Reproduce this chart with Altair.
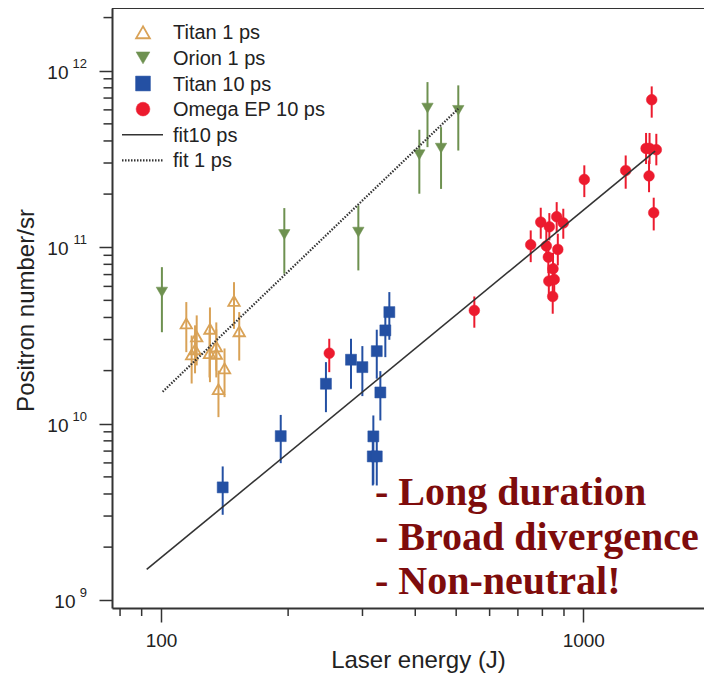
import altair as alt
import pandas as pd

# ---------------- data ----------------
titan1_E = [114.8, 121.5, 118.2, 120.4, 130.6, 130.3, 135.2, 135.2, 148.9, 153.2, 141.4, 136.8]
titan1_N = [3.70e10, 3.12e10, 2.47e10, 2.64e10, 3.45e10, 2.51e10, 2.74e10, 2.49e10, 4.96e10, 3.34e10, 2.06e10, 1.57e10]
titan1_hi = [4.89e10, 4.11e10, 3.16e10, 3.61e10, 4.56e10, 3.42e10, 3.75e10, 3.42e10, 6.34e10, 4.29e10, 2.67e10, 2.00e10]
titan1_lo = [2.545e10, 2.14e10, 1.69e10, 1.93e10, 1.72e10, 1.83e10, 2.00e10, 1.83e10, 3.45e10, 2.28e10, 1.415e10, 1.09e10]

orion_E = [100.5, 195.9, 293.3, 409.0, 427.6, 460.4, 505.8]
orion_N = [5.57e10, 1.18e11, 1.218e11, 3.34e11, 6.14e11, 3.64e11, 5.96e11]
orion_hi = [7.71e10, 1.666e11, 1.725e11, 4.63e11, 8.62e11, 4.79e11, 8.26e11]
orion_lo = [3.30e10, 7.08e10, 7.39e10, 2.01e11, 3.69e11, 2.14e11, 3.53e11]

titan10_E = [140.0, 192.1, 245.8, 281.8, 299.8, 324.3, 330.7, 318.3, 317.3, 324.3, 339.8, 347.3]
titan10_N = [4.36e9, 8.51e9, 1.685e10, 2.305e10, 2.093e10, 2.578e10, 1.504e10, 8.48e9, 6.53e9, 6.53e9, 3.38e10, 4.29e10]
titan10_hi = [5.73e9, 1.122e10, 2.234e10, 3.03e10, 2.753e10, 3.41e10, 1.986e10, 1.114e10, 8.39e9, 8.39e9, 4.385e10, 5.57e10]
titan10_lo = [3.05e9, 5.98e9, 1.163e10, 1.578e10, 1.434e10, 1.80e10, 1.044e10, 4.53e9, 4.47e9, 4.47e9, 2.384e10, 2.99e10]

omega_E = [250.3, 552, 750.7, 792.9, 830.9, 864.9, 896.6, 817.4, 870.2, 826.4, 847.8, 828.6, 853.4, 846.4,
           1005.5, 1260, 1408, 1435, 1489, 1452, 1431, 1468]
omega_N = [2.51e10, 4.385e10, 1.033e11, 1.388e11, 1.306e11, 1.489e11, 1.373e11, 1.017e11, 9.72e10, 8.79e10,
           7.55e10, 6.43e10, 6.57e10, 5.26e10, 2.42e11, 2.72e11, 3.63e11, 3.63e11, 3.57e11, 6.85e11, 2.535e11, 1.569e11]
omega_hi = [3.03e10, 5.26e10, 1.245e11, 1.674e11, 1.561e11, 1.801e11, 1.652e11, 1.245e11, 1.193e11, 1.083e11,
            9.31e10, 7.92e10, 8.09e10, 6.49e10, 2.91e11, 3.31e11, 4.44e11, 4.44e11, 4.39e11, 8.15e11, 3.10e11, 1.908e11]
omega_lo = [1.96e10, 3.50e10, 8.23e10, 1.117e11, 1.093e11, 1.218e11, 1.117e11, 8.41e10, 7.89e10, 7.13e10,
            6.13e10, 5.22e10, 5.33e10, 4.20e10, 1.923e11, 2.145e11, 2.96e11, 2.96e11, 2.91e11, 5.42e11, 2.05e11, 1.245e11]

fit10_E = [92.5, 1479]
fit10_N = [1.494e9, 3.50e11]
fit1_E = [100.9, 505.8]
fit1_N = [1.518e10, 6.09e11]

legend_labels = ["Titan 1 ps", "Orion 1 ps", "Titan 10 ps", "Omega EP 10 ps", "fit10 ps", "fit 1 ps"]
notes = ["- Long duration", "- Broad divergence", "- Non-neutral!"]

x_major = [100, 1000]
x_minor = [80, 90, 200, 300, 400, 500, 600, 700, 800, 900]
y_major = [1e9, 1e10, 1e11, 1e12]
y_exp = ["9", "10", "11", "12"]
y_minor = [2e9, 3e9, 4e9, 5e9, 6e9, 7e9, 8e9, 9e9,
           2e10, 3e10, 4e10, 5e10, 6e10, 7e10, 8e10, 9e10,
           2e11, 3e11, 4e11, 5e11, 6e11, 7e11, 8e11, 9e11, 2e12]

# ---------------- styling ----------------
W, H = 592, 600
AX = "#333333"
TXT = "#222222"
FONT = "Liberation Sans"
C_T1 = "#D9A257"
C_OR = "#6E9150"
C_T10 = "#2450A3"
C_OM = "#EC1B2E"
C_FIT = "#333333"
C_NOTE = "#7E0C0C"

xs = alt.Scale(type="log", domain=[76.56, 1931], nice=False)
ys = alt.Scale(type="log", domain=[9.04e8, 2.266e12], nice=False)

x_axis = alt.Axis(values=x_major, format="d", tickSize=14, tickWidth=1.5, tickColor=AX,
                  domainColor=AX, domainWidth=2, grid=False,
                  labelFont=FONT, labelFontSize=19, labelColor=TXT, labelPadding=9,
                  title="Laser energy (J)", titleFont=FONT, titleFontSize=24,
                  titleFontWeight="normal", titleColor=TXT,
                  titleX=306, titleY=59, titleAlign="center", titleBaseline="alphabetic")
y_axis = alt.Axis(values=y_major, tickSize=13, tickWidth=1.5, tickColor=AX,
                  domainColor=AX, domainWidth=2, grid=False, labels=False,
                  title="Positron number/sr", titleFont=FONT, titleFontSize=24,
                  titleFontWeight="normal", titleColor=TXT, titleAngle=270,
                  titleX=-79, titleY=302, titleAlign="center", titleBaseline="alphabetic")


def X(field):
    return alt.X(field, type="quantitative", scale=xs, axis=x_axis)


def Y(field):
    return alt.Y(field, type="quantitative", scale=ys, axis=y_axis)


series = [
    ("Titan 1 ps", titan1_E, titan1_N, titan1_lo, titan1_hi, C_T1, "triangle-up", False, 130),
    ("Orion 1 ps", orion_E, orion_N, orion_lo, orion_hi, C_OR, "triangle-down", True, 130),
    ("Titan 10 ps", titan10_E, titan10_N, titan10_lo, titan10_hi, C_T10, "square", True, 121),
    ("Omega EP 10 ps", omega_E, omega_N, omega_lo, omega_hi, C_OM, "circle", True, 115),
]

layers = []

# minor ticks (axis decoration)
layers.append(
    alt.Chart(pd.DataFrame({"v": y_minor})).mark_rule(color=AX, strokeWidth=1.5)
    .encode(y=Y("v"), x=alt.value(0), x2=alt.value(-8.5))
)
layers.append(
    alt.Chart(pd.DataFrame({"v": x_minor})).mark_rule(color=AX, strokeWidth=1.5)
    .encode(x=X("v"), y=alt.value(H), y2=alt.value(H + 8))
)
# top frame line
layers.append(
    alt.Chart(pd.DataFrame({"a": [0]})).mark_rule(color=AX, strokeWidth=2)
    .encode(x=alt.value(0), x2=alt.value(W), y=alt.value(0))
)

# y tick labels "10^n"
ylab = pd.DataFrame({"v": y_major, "exp": y_exp})
layers.append(
    alt.Chart(ylab).transform_filter("length(datum.exp) == 2")
    .mark_text(text="10", align="right", baseline="middle", dy=2, font=FONT, fontSize=19, color=TXT)
    .encode(y=Y("v"), x=alt.value(-43.5))
)
layers.append(
    alt.Chart(ylab).transform_filter("length(datum.exp) == 1")
    .mark_text(text="10", align="right", baseline="middle", dy=2, font=FONT, fontSize=19, color=TXT)
    .encode(y=Y("v"), x=alt.value(-36.5))
)
layers.append(
    alt.Chart(ylab)
    .mark_text(align="right", baseline="middle", dy=-7, font=FONT, fontSize=13, color=TXT)
    .encode(y=Y("v"), x=alt.value(-25), text="exp:N")
)

# error bars and markers
for name, E, N, lo, hi, col, shape, filled, size in series:
    df = pd.DataFrame({"E": E, "N": N, "lo": lo, "hi": hi})
    base = alt.Chart(df)
    layers.append(base.mark_rule(color=col, strokeWidth=2).encode(x=X("E"), y=Y("lo"), y2="hi:Q"))
    if filled:
        pts = base.mark_point(shape=shape, filled=True, fill=col, stroke=col, strokeWidth=0.5,
                              opacity=1, size=size)
    else:
        pts = base.mark_point(shape=shape, filled=False, stroke=col, strokeWidth=1.8,
                              fillOpacity=0, opacity=1, size=size)
    layers.append(pts.encode(x=X("E"), y=Y("N")))

# fit lines
layers.append(
    alt.Chart(pd.DataFrame({"E": fit10_E, "N": fit10_N})).mark_line(color=C_FIT, strokeWidth=1.6)
    .encode(x=X("E"), y=Y("N"))
)
layers.append(
    alt.Chart(pd.DataFrame({"E": fit1_E, "N": fit1_N})).mark_line(color=C_FIT, strokeWidth=2.2,
                                                                     strokeDash=[1.5, 1.5])
    .encode(x=X("E"), y=Y("N"))
)

# legend (inside plot, top-left)
leg_x_sym = 31
leg_x_txt = 61
leg_y0 = 24.3
leg_dy = 25.6
leg_marks = [
    ("triangle-up", C_T1, False, 190),
    ("triangle-down", C_OR, True, 190),
    ("square", C_T10, True, 220),
    ("circle", C_OM, True, 190),
]
dummy = pd.DataFrame({"a": [0]})
for i, (shape, col, filled, size) in enumerate(leg_marks):
    y = leg_y0 + i * leg_dy
    if filled:
        m = alt.Chart(dummy).mark_point(shape=shape, filled=True, fill=col, stroke=col, strokeWidth=0.5,
                                        opacity=1, size=size)
    else:
        m = alt.Chart(dummy).mark_point(shape=shape, filled=False, stroke=col, strokeWidth=1.8,
                                        fillOpacity=0, opacity=1, size=size)
    layers.append(m.encode(x=alt.value(leg_x_sym), y=alt.value(y)))
y_l1 = leg_y0 + 4 * leg_dy
y_l2 = leg_y0 + 5 * leg_dy
layers.append(alt.Chart(dummy).mark_rule(color=C_FIT, strokeWidth=1.6)
              .encode(x=alt.value(10), x2=alt.value(51), y=alt.value(y_l1)))
layers.append(alt.Chart(dummy).mark_rule(color=C_FIT, strokeWidth=2.2, strokeDash=[1.5, 1.5])
              .encode(x=alt.value(10), x2=alt.value(51), y=alt.value(y_l2)))
for i, lab in enumerate(legend_labels):
    layers.append(
        alt.Chart(dummy).mark_text(text=lab, align="left", baseline="alphabetic", font=FONT,
                                   fontSize=20, color=TXT)
        .encode(x=alt.value(leg_x_txt), y=alt.value(leg_y0 + i * leg_dy + 7))
    )

# annotation
note_y0 = 497
note_dy = 44.5
for i, t in enumerate(notes):
    layers.append(
        alt.Chart(dummy).mark_text(text=t, align="left", baseline="alphabetic", font="Liberation Serif",
                                   fontWeight="bold", fontSize=40, color=C_NOTE)
        .encode(x=alt.value(263), y=alt.value(note_y0 + i * note_dy))
    )

chart = (
    alt.layer(*layers)
    .properties(width=W, height=H,
                padding={"left": 104, "top": 0, "right": 0, "bottom": 65},
                autosize=alt.AutoSizeParams(type="none"))
    .configure_view(stroke=None)
)

chart.save("out.html", embed_options={"renderer": "svg", "actions": False})
